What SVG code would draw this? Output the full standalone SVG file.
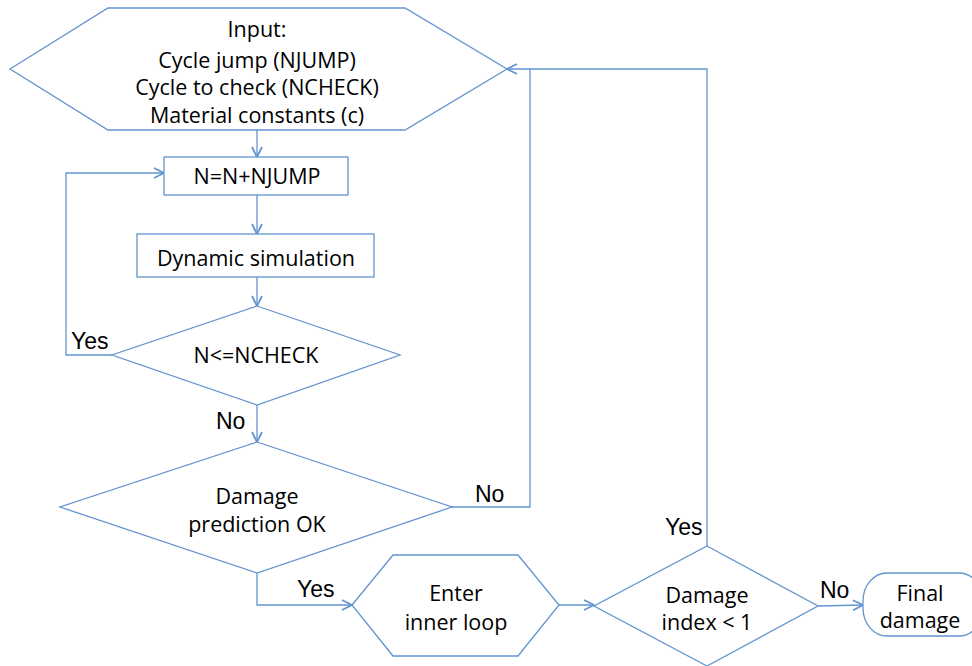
<svg xmlns="http://www.w3.org/2000/svg" width="972" height="666" viewBox="0 0 972 666">
<style>
.s{fill:#fff;stroke:#6394CF;stroke-width:1.3}
.c{fill:none;stroke:#6394CF;stroke-width:1.3}
.t{font-family:"Open Sans","Liberation Sans",sans-serif;font-size:21.5px;fill:#000;text-anchor:middle}
.l{font-family:"Liberation Sans",Arial,sans-serif;font-size:23px;fill:#000}
</style>
<defs>
<marker id="a" viewBox="0 0 12 12" refX="11" refY="6" markerWidth="12" markerHeight="12" markerUnits="userSpaceOnUse" orient="auto">
<path d="M1,1 L11,6 L1,11" fill="none" stroke="#6394CF" stroke-width="1.8"/>
</marker>
</defs>
<rect width="972" height="666" fill="#fff"/>
<g id="connectors">
<path class="c" d="M257,130 V157" marker-end="url(#a)"/>
<path class="c" d="M257,195 V234" marker-end="url(#a)"/>
<path class="c" d="M257,277 V306" marker-end="url(#a)"/>
<path class="c" d="M112,355 H66 V173 H164" marker-end="url(#a)"/>
<path class="c" d="M257,405 V442" marker-end="url(#a)"/>
<path class="c" d="M452,507 H530 V69 H507" marker-end="url(#a)"/>
<path class="c" d="M707,546 V69 H530"/>
<path class="c" d="M257,573 V605 H352" marker-end="url(#a)"/>
<path class="c" d="M559,605 H594" marker-end="url(#a)"/>
<path class="c" d="M818,606 L863,605" marker-end="url(#a)"/>
</g>
<g id="input">
<polygon class="s" points="10,69 108,8 405,8 507,69 405,130 108,130"/>
<text class="t" x="257" y="37">Input:</text>
<text class="t" x="257" y="68">Cycle jump (NJUMP)</text>
<text class="t" x="257" y="95">Cycle to check (NCHECK)</text>
<text class="t" x="257" y="123">Material constants (c)</text>
</g>
<g id="increment">
<rect class="s" x="164" y="157" width="184" height="38"/>
<text class="t" x="257" y="184">N=N+NJUMP</text>
</g>
<g id="simulation">
<rect class="s" x="137" y="234" width="237" height="43"/>
<text class="t" x="256" y="266">Dynamic simulation</text>
</g>
<g id="check">
<polygon class="s" points="257,306 400,355 257,405 112,355"/>
<text class="t" x="256" y="363">N&lt;=NCHECK</text>
</g>
<g id="prediction">
<polygon class="s" points="257,442 452,507 257,573 60,507"/>
<text class="t" x="257" y="504">Damage</text>
<text class="t" x="257" y="532">prediction OK</text>
</g>
<g id="inner">
<polygon class="s" points="352,605 393,555 518,555 559,605 518,656 393,656"/>
<text class="t" x="456" y="601">Enter</text>
<text class="t" x="456" y="630">inner loop</text>
</g>
<g id="index">
<polygon class="s" points="707,546 818,606 707,666 594,606"/>
<text class="t" x="707" y="603">Damage</text>
<text class="t" x="707" y="630">index &lt; 1</text>
</g>
<g id="final">
<rect class="s" x="863" y="573" width="120" height="63" rx="24" ry="28"/>
<text class="t" x="920" y="601">Final</text>
<text class="t" x="920" y="628">damage</text>
</g>
<g id="labels">
<text class="l" x="71" y="349">Yes</text>
<text class="l" x="216" y="429">No</text>
<text class="l" x="475" y="502">No</text>
<text class="l" x="297" y="597">Yes</text>
<text class="l" x="665" y="535">Yes</text>
<text class="l" x="820" y="598">No</text>
</g>
</svg>
